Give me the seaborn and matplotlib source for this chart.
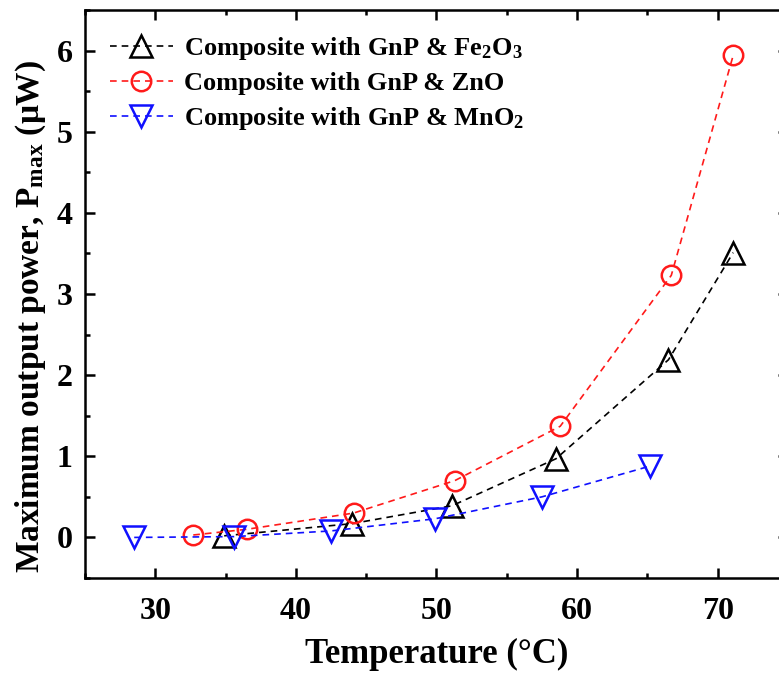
import numpy as np
import pandas as pd
import matplotlib
matplotlib.use("Agg")
import matplotlib.pyplot as plt
import seaborn as sns
from matplotlib.ticker import MultipleLocator

# ---- data ----
fe_T = [34.9, 44.0, 51.1, 58.5, 66.5, 71.1]
fe_P = [0.02, 0.17, 0.39, 0.97, 2.19, 3.51]
zn_T = [32.7, 36.5, 44.1, 51.3, 58.8, 66.7, 71.1]
zn_P = [0.03, 0.10, 0.30, 0.70, 1.37, 3.23, 5.94]
mn_T = [28.5, 35.6, 42.5, 49.9, 57.5, 65.2]
mn_P = [0.00, 0.01, 0.08, 0.23, 0.50, 0.88]

labels = ["Composite with GnP & Fe$_2$O$_3$",
          "Composite with GnP & ZnO",
          "Composite with GnP & MnO$_2$"]
xticks = [30, 40, 50, 60, 70]
yticks = [0, 1, 2, 3, 4, 5, 6]

sns.set_theme(style="ticks")
plt.rcParams['font.family'] = ['Liberation Serif', 'DejaVu Serif']
plt.rcParams['font.weight'] = 'bold'
plt.rcParams['mathtext.fontset'] = 'custom'
plt.rcParams['mathtext.rm'] = 'Liberation Serif:bold'
plt.rcParams['mathtext.it'] = 'Liberation Serif:bold'
plt.rcParams['mathtext.bf'] = 'Liberation Serif:bold'
plt.rcParams['mathtext.default'] = 'rm'
for k in ['text.color', 'axes.labelcolor', 'xtick.color', 'ytick.color', 'axes.edgecolor']:
    plt.rcParams[k] = 'black'

fig = plt.figure(figsize=(7.79, 6.75), dpi=100)
ax = fig.add_axes([85/779, (675-578)/675, (788-85)/779, (578-10)/675])

series = [(fe_T, fe_P, "black", "^"), (zn_T, zn_P, "#ff1a1a", "o"), (mn_T, mn_P, "#1010ff", "v")]
for (T, P, c, m), lab in zip(series, labels):
    df = pd.DataFrame({"T": T, "P": P})
    ms = 14 if m == "o" else 16
    sns.lineplot(data=df, x="T", y="P", ax=ax, color=c, linestyle=(0, (4, 3)), linewidth=1.2,
                 marker=m, markersize=ms, markerfacecolor="none", markeredgecolor=c,
                 markeredgewidth=1.8, label=lab, sort=False)

ax.set_xlim(25, 75)
ax.set_ylim(-0.5, 6.5)
ax.set_xticks(xticks)
ax.set_yticks(yticks)
ax.xaxis.set_minor_locator(MultipleLocator(5))
ax.yaxis.set_minor_locator(MultipleLocator(0.5))
ax.tick_params(which='both', direction='in', top=True, right=True, width=1.8, colors='black')
ax.tick_params(which='major', length=7, labelsize=23)
ax.tick_params(axis='x', which='major', pad=14)
ax.tick_params(axis='y', which='major', pad=9)
ax.tick_params(which='minor', length=3.5)
for lab in ax.get_xticklabels() + ax.get_yticklabels():
    lab.set_fontweight('bold')
for s in ax.spines.values():
    s.set_linewidth(1.8)
    s.set_color('black')

ax.set_xlabel("Temperature (°C)", fontsize=25, fontweight='bold', labelpad=8)
ax.set_ylabel("Maximum output power, P$_{max}$ (μW)", fontsize=24, fontweight='bold')
ax.yaxis.set_label_coords(-0.052, 0.46)

leg = ax.legend(loc='upper left', bbox_to_anchor=(0.02, 0.975), frameon=False,
                prop={'family': 'Liberation Serif', 'weight': 'bold', 'size': 19},
                handlelength=2.4, handletextpad=0.4, labelspacing=0.38, borderaxespad=0.0)

fig.savefig("out.png", dpi=100)
